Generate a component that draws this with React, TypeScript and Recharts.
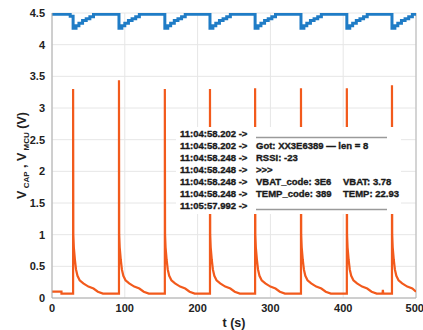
import { CartesianGrid, Line, LineChart, ReferenceLine, XAxis, YAxis } from "recharts";

const xTicks = [0, 100, 200, 300, 400, 500];
const yTicks = [0, 0.5, 1, 1.5, 2, 2.5, 3, 3.5, 4, 4.5];

// V_CAP: spikes with decaying tails, [t, volts]
const vCapPoints: [number, number][] = [
  [0, 0.1], [13, 0.1], [13, 0.07],
  [29, 0.07], [29, 3.3], [29.3, 1.0], [30, 0.8], [31.5, 0.6], [33, 0.45], [35, 0.35], [38, 0.28], [43, 0.23], [50, 0.18], [57, 0.15], [63, 0.1], [70, 0.07],
  [92, 0.07], [92, 3.44], [92.3, 1.0], [93, 0.8], [94.5, 0.6], [96, 0.45], [98, 0.35], [101, 0.28], [106, 0.23], [113, 0.18], [120, 0.15], [126, 0.1], [133, 0.07],
  [155, 0.07], [155, 3.3], [155.3, 1.0], [156, 0.8], [157.5, 0.6], [159, 0.45], [161, 0.35], [164, 0.28], [169, 0.23], [176, 0.18], [183, 0.15], [189, 0.1], [196, 0.07],
  [217, 0.07], [217, 3.3], [217.3, 1.0], [218, 0.8], [219.5, 0.6], [221, 0.45], [223, 0.35], [226, 0.28], [231, 0.23], [238, 0.18], [245, 0.15], [251, 0.1], [258, 0.07],
  [279, 0.07], [279, 3.31], [279.3, 1.0], [280, 0.8], [281.5, 0.6], [283, 0.45], [285, 0.35], [288, 0.28], [293, 0.23], [300, 0.18], [307, 0.15], [313, 0.1], [320, 0.07],
  [342, 0.07], [342, 3.31], [342.3, 1.0], [343, 0.8], [344.5, 0.6], [346, 0.45], [348, 0.35], [351, 0.28], [356, 0.23], [363, 0.18], [370, 0.15], [376, 0.1], [383, 0.07],
  [405, 0.07], [405, 3.31], [405.3, 1.0], [406, 0.8], [407.5, 0.6], [409, 0.45], [411, 0.35], [414, 0.28], [419, 0.23], [426, 0.18], [433, 0.15], [439, 0.1], [446, 0.07],
  [454, 0.07], [454.5, 0.13], [455, 0.07],
  [467, 0.07], [467, 3.36], [467.3, 1.0], [468, 0.8], [469.5, 0.6], [471, 0.45], [473, 0.35], [476, 0.28], [481, 0.23], [488, 0.18], [495, 0.15], [500, 0.1],
];

// V_MCU: stepped recovery after each drop, [t, volts]
const vMcuPoints: [number, number][] = [
  [0, 4.48], [25, 4.45],
  [29, 4.26], [33, 4.3], [37, 4.34], [42, 4.38], [47, 4.41], [52, 4.44], [57, 4.48],
  [92, 4.26], [96, 4.3], [100, 4.34], [105, 4.38], [110, 4.41], [115, 4.44], [120, 4.48],
  [155, 4.26], [159, 4.3], [163, 4.34], [168, 4.38], [173, 4.41], [178, 4.44], [183, 4.48],
  [217, 4.26], [221, 4.3], [225, 4.34], [230, 4.38], [235, 4.41], [240, 4.44], [245, 4.48],
  [279, 4.26], [283, 4.3], [287, 4.34], [292, 4.38], [297, 4.41], [302, 4.44], [307, 4.48],
  [342, 4.26], [346, 4.3], [350, 4.34], [355, 4.38], [360, 4.41], [365, 4.44], [370, 4.48],
  [405, 4.26], [409, 4.3], [413, 4.34], [418, 4.38], [423, 4.41], [428, 4.44], [433, 4.48],
  [467, 4.26], [471, 4.3], [475, 4.34], [480, 4.38], [485, 4.41], [490, 4.44], [495, 4.48], [500, 4.48],
];

const logTimes = [
  "11:04:58.202 ->",
  "11:04:58.202 ->",
  "11:04:58.248 ->",
  "11:04:58.248 ->",
  "11:04:58.248 ->",
  "11:04:58.248 ->",
  "11:05:57.992 ->",
];
const logMessages = ["", "Got: XX3E6389 — len = 8", "RSSI: -23", ">>>", "VBAT_code: 3E6", "TEMP_code: 389", ""];
const logValues = ["", "", "", "", "VBAT: 3.78", "TEMP: 22.93", ""];

const capData = vCapPoints.map(([t, v]) => ({ t, v }));
const mcuData = vMcuPoints.map(([t, v]) => ({ t, v }));

const FONT = "'Liberation Sans', Arial, sans-serif";
const tickStyle = { fontSize: 11, fontWeight: 700, fill: "#222", fontFamily: FONT };

function YLabel({ viewBox }: any) {
  const cx = (viewBox?.x ?? 0) + 26;
  const cy = (viewBox?.y ?? 0) + (viewBox?.height ?? 0) / 2;
  return (
    <text
      x={cx}
      y={cy}
      transform={`rotate(-90, ${cx}, ${cy})`}
      textAnchor="middle"
      fontFamily={FONT}
      fontWeight={700}
      fontSize={12.5}
      fill="#222"
    >
      <tspan>V</tspan>
      <tspan fontSize={8} dy={3}> CAP</tspan>
      <tspan dy={-3}> , V</tspan>
      <tspan fontSize={8} dy={3}> MCU</tspan>
      <tspan dy={-3}> (V)</tspan>
    </text>
  );
}

function LogBox() {
  const rowY = (i: number) => 137.4 + i * 12;
  return (
    <svg width={423} height={330} style={{ position: "absolute", left: 0, top: 0, pointerEvents: "none" }}>
      <rect x={176} y={127} width={225} height={87} fill="#fff" />
      <g fontFamily={FONT} fontWeight={700} fontSize={9.5} fill="#1a1a1a" stroke="#1a1a1a" strokeWidth={0.35}>
        {logTimes.map((s, i) => (
          <text key={"a" + i} x={180} y={rowY(i)}>{s}</text>
        ))}
        {logMessages.map((s, i) =>
          s ? <text key={"b" + i} x={256} y={rowY(i)}>{s}</text> : null
        )}
        {logValues.map((s, i) =>
          s ? <text key={"c" + i} x={343} y={rowY(i)}>{s}</text> : null
        )}
      </g>
      {logMessages.map((s, i) =>
        s ? null : <line key={"l" + i} x1={256} x2={387} y1={rowY(i)} y2={rowY(i)} stroke="#9a9a9a" strokeWidth={1.5} />
      )}
    </svg>
  );
}

export default function App() {
  return (
    <div style={{ position: "absolute", left: 0, top: 0, width: 423, height: 330, background: "#fff", fontFamily: FONT }}>
      <LineChart width={423} height={330} margin={{ top: 13, right: 7, bottom: 0, left: 0 }}>
        <CartesianGrid stroke="#e6e6e6" />
        <XAxis
          type="number"
          dataKey="t"
          domain={[0, 500]}
          ticks={xTicks}
          tick={tickStyle}
          tickLine={false}
          tickSize={0}
          tickMargin={6}
          height={32}
          axisLine={{ stroke: "#aaa" }}
          allowDataOverflow
          label={{ value: "t (s)", position: "insideBottom", offset: 3, style: { fontSize: 12.5, fontWeight: 700, fill: "#222", fontFamily: FONT } }}
        />
        <YAxis
          type="number"
          domain={[0, 4.5]}
          ticks={yTicks}
          tick={tickStyle}
          tickLine={false}
          tickSize={0}
          tickMargin={7}
          width={52}
          axisLine={{ stroke: "#aaa" }}
          allowDataOverflow
          label={{ content: (p: any) => <YLabel {...p} /> }}
        />
        <ReferenceLine x={500} stroke="#b5b5b5" />
        <Line data={capData} dataKey="v" type="linear" stroke="#f25a1c" strokeWidth={2.2} dot={false} isAnimationActive={false} />
        <Line data={mcuData} dataKey="v" type="stepAfter" stroke="#1f7cc6" strokeWidth={3} dot={false} isAnimationActive={false} />
      </LineChart>
      <LogBox />
    </div>
  );
}
